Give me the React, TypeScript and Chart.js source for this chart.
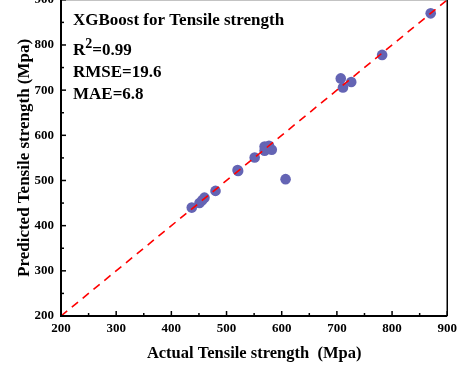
import React, { useEffect, useRef } from "react";
import { Chart, registerables } from "chart.js";

Chart.register(...registerables);

const actual = [870, 782, 707, 711, 726, 569, 569, 577, 582, 551, 521, 520, 607, 437, 451, 456, 460, 480];
const predicted = [870, 778, 726, 706, 718, 575, 566, 577, 568, 551, 521, 523, 503, 440, 450, 456, 462, 477];
const axisMin = 200;
const axisMax = 900;
const tickStep = 100;
const titleText = "XGBoost for Tensile strength";
const r2Text = "0.99";
const rmseText = "RMSE=19.6";
const maeText = "MAE=6.8";
const xTitle = "Actual Tensile strength  (Mpa)";
const yTitle = "Predicted Tensile strength (Mpa)";

const FONT = "'Liberation Serif', 'Times New Roman', serif";

const framePlugin = {
  id: "frame",
  afterDraw(chart: any) {
    const { ctx, chartArea } = chart;
    const { left, right, top, bottom } = chartArea;
    const xs = chart.scales.x;
    const ys = chart.scales.y;
    ctx.save();
    // top border
    ctx.strokeStyle = "#888";
    ctx.lineWidth = 1.5;
    ctx.beginPath();
    ctx.moveTo(left, top);
    ctx.lineTo(right, top);
    ctx.stroke();
    // right border
    ctx.strokeStyle = "#000";
    ctx.lineWidth = 1.5;
    ctx.beginPath();
    ctx.moveTo(right, top);
    ctx.lineTo(right, bottom);
    ctx.stroke();
    // left & bottom axis
    ctx.lineWidth = 2;
    ctx.beginPath();
    ctx.moveTo(left, top);
    ctx.lineTo(left, bottom);
    ctx.lineTo(right, bottom);
    ctx.stroke();
    // ticks inward
    ctx.lineWidth = 1.5;
    for (let v = axisMin; v <= axisMax; v += tickStep / 2) {
      const major = (v - axisMin) % tickStep === 0;
      const len = major ? 5 : 3;
      const px = xs.getPixelForValue(v);
      ctx.beginPath();
      ctx.moveTo(px, bottom);
      ctx.lineTo(px, bottom - len);
      ctx.stroke();
      const py = ys.getPixelForValue(v);
      ctx.beginPath();
      ctx.moveTo(left, py);
      ctx.lineTo(left + len, py);
      ctx.stroke();
    }
    // annotation text
    ctx.fillStyle = "#000";
    ctx.textBaseline = "alphabetic";
    ctx.textAlign = "left";
    const tx = left + 12;
    ctx.font = `bold 17px ${FONT}`;
    ctx.fillText(titleText, tx, top + 25);
    ctx.fillText("R", tx, top + 55);
    const rw = ctx.measureText("R").width;
    ctx.font = `bold 14px ${FONT}`;
    ctx.fillText("2", tx + rw, top + 48);
    const w2 = ctx.measureText("2").width;
    ctx.font = `bold 17px ${FONT}`;
    ctx.fillText("=" + r2Text, tx + rw + w2, top + 55);
    ctx.fillText(rmseText, tx, top + 77);
    ctx.fillText(maeText, tx, top + 99);
    ctx.restore();
  },
};

export default function App() {
  const ref = useRef<HTMLCanvasElement>(null);
  useEffect(() => {
    if (!ref.current) return;
    const points = actual.map((x, i) => ({ x, y: predicted[i] }));
    const chart = new Chart(ref.current, {
      type: "scatter",
      data: {
        datasets: [
          {
            type: "line",
            data: [
              { x: axisMin, y: axisMin },
              { x: axisMax, y: axisMax },
            ],
            borderColor: "#ff0000",
            borderWidth: 1.6,
            borderDash: [8, 6],
            pointRadius: 0,
            fill: false,
          } as any,
          {
            data: points,
            backgroundColor: "rgb(100,100,180)",
            borderColor: "rgb(100,100,180)",
            borderWidth: 0,
            pointRadius: 5.3,
          },
        ],
      },
      options: {
        animation: false,
        responsive: false,
        maintainAspectRatio: false,
        layout: { padding: { left: 0, right: 10, top: 0, bottom: 17 } },
        plugins: { legend: { display: false }, tooltip: { enabled: false } },
        scales: {
          x: {
            type: "linear",
            min: axisMin,
            max: axisMax,
            grid: { display: false, drawTicks: false },
            border: { display: false },
            ticks: {
              stepSize: tickStep,
              padding: 5,
              color: "#000",
              font: { family: FONT, size: 13, weight: "bold" },
            },
            title: {
              display: true,
              text: xTitle,
              color: "#000",
              font: { family: FONT, size: 16.5, weight: "bold" },
              padding: { top: 0, bottom: 2 },
            },
            afterFit: (s: any) => {
              s.height = 50;
            },
          },
          y: {
            type: "linear",
            min: axisMin,
            max: axisMax,
            grid: { display: false, drawTicks: false },
            border: { display: false },
            ticks: {
              stepSize: tickStep,
              padding: 7,
              color: "#000",
              font: { family: FONT, size: 13, weight: "bold" },
            },
            title: {
              display: true,
              text: yTitle,
              color: "#000",
              font: { family: FONT, size: 17, weight: "bold" },
              padding: { top: 14, bottom: 0 },
            },
            afterFit: (s: any) => {
              s.width = 61;
            },
          },
        },
      },
      plugins: [framePlugin],
    });
    return () => chart.destroy();
  }, []);
  return (
    <div style={{ position: "absolute", left: 0, top: -15, width: 462, height: 398 }}>
      <canvas ref={ref} width={462} height={398} style={{ width: 462, height: 398 }} />
    </div>
  );
}
